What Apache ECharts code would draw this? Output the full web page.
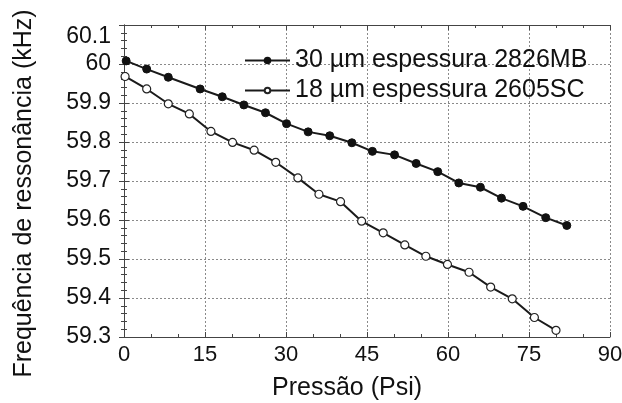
<!DOCTYPE html>
<html>
<head>
<meta charset="utf-8">
<script src="https://cdn.jsdelivr.net/npm/echarts@6/dist/echarts.min.js"></script>
<style>
html,body{margin:0;padding:0;background:#fff;}
#chart{width:622px;height:403px;}
</style>
</head>
<body>
<div id="chart"></div>
<script>
// Data
const seriesNames = ['30 µm espessura 2826MB', '18 µm espessura 2605SC'];
const pressure30 = [0.4, 4.2, 8.2, 14.1, 18.2, 22.2, 26.2, 30.1, 34.1, 38.1, 42.2, 46.0, 50.1, 54.1, 58.1, 62.0, 66.0, 69.9, 73.9, 78.1, 82.0];
const freq30 =     [60.008, 59.987, 59.966, 59.936, 59.916, 59.895, 59.875, 59.847, 59.826, 59.816, 59.798, 59.776, 59.767, 59.745, 59.724, 59.695, 59.684, 59.656, 59.635, 59.606, 59.586];
const pressure18 = [0.2, 4.2, 8.2, 12.1, 16.1, 20.1, 24.1, 28.1, 32.2, 36.1, 40.1, 44.0, 48.0, 52.0, 55.9, 59.9, 63.9, 67.9, 71.9, 76.0, 80.0];
const freq18 =     [59.968, 59.936, 59.898, 59.872, 59.827, 59.799, 59.779, 59.748, 59.708, 59.666, 59.647, 59.597, 59.567, 59.536, 59.507, 59.486, 59.466, 59.428, 59.398, 59.350, 59.317];
const xTicks = [0, 15, 30, 45, 60, 75, 90];
const yTicks = [59.3, 59.4, 59.5, 59.6, 59.7, 59.8, 59.9, 60.0, 60.1];
const xTitle = 'Pressão (Psi)';
const yTitle = 'Frequência de ressonância (kHz)';

const FONT = '"Liberation Sans", Arial, sans-serif';
const frameColor = '#444';
const gridLine = { show: true, lineStyle: { color: '#8a8a8a', type: [2, 2], width: 1 } };

function pairs(xs, ys) { return xs.map((x, i) => [x, ys[i]]); }

const xBase = {
  type: 'value', min: xTicks[0], max: xTicks[xTicks.length - 1], interval: xTicks[1] - xTicks[0],
  axisLine: { show: true, lineStyle: { color: frameColor, width: 1 } },
  axisTick: { show: true, inside: true, length: 5, lineStyle: { color: frameColor } },
  minorTick: { show: true, splitNumber: 3, length: 3, lineStyle: { color: frameColor } },
};
const yBase = {
  type: 'value', min: yTicks[0], max: yTicks[yTicks.length - 1], interval: 0.1,
  axisLine: { show: true, lineStyle: { color: frameColor, width: 1 } },
  axisTick: { show: true, inside: true, length: 5, lineStyle: { color: frameColor } },
  minorTick: { show: true, splitNumber: 5, length: 3, lineStyle: { color: frameColor } },
};

const chart = echarts.init(document.getElementById('chart'), null, { renderer: 'canvas' });
chart.setOption({
  animation: false,
  backgroundColor: '#fff',
  textStyle: { fontFamily: FONT },
  grid: { left: 124, right: 12, top: 25, bottom: 66, containLabel: false, outerBoundsMode: 'none' },
  legend: {
    orient: 'vertical', left: 239, top: 43, itemGap: 5,
    itemWidth: 45, itemHeight: 7,
    textStyle: { fontFamily: FONT, fontSize: 25, color: '#111', lineHeight: 24 },
    data: seriesNames
  },
  xAxis: [
    Object.assign({}, xBase, {
      position: 'bottom',
      splitLine: gridLine,
      axisLabel: { fontFamily: FONT, fontSize: 22, color: '#111', margin: 7 },
      name: xTitle, nameLocation: 'middle', nameGap: 39,
      nameTextStyle: { fontFamily: FONT, fontSize: 25, color: '#111', padding: [0, 40, 0, 0] }
    }),
    Object.assign({}, xBase, {
      position: 'top', splitLine: { show: false }, axisLabel: { show: false }
    })
  ],
  yAxis: [
    Object.assign({}, yBase, {
      position: 'left',
      splitLine: gridLine,
      axisLabel: {
        fontFamily: FONT, fontSize: 23, color: '#111', margin: 13,
        formatter: v => (Math.round(v * 10) / 10).toString(),
        verticalAlignMaxLabel: 'top'
      },
      name: yTitle, nameLocation: 'middle', nameGap: 87, nameRotate: 90,
      nameTextStyle: { fontFamily: FONT, fontSize: 25, color: '#111', padding: [0, 25, 0, 0] }
    }),
    Object.assign({}, yBase, {
      position: 'right', splitLine: { show: false }, axisLabel: { show: false }
    })
  ],
  series: [
    {
      name: seriesNames[0], type: 'line', data: pairs(pressure30, freq30),
      symbol: 'circle', symbolSize: 8,
      lineStyle: { color: '#1a1a1a', width: 2 },
      itemStyle: { color: '#111', borderColor: '#111', borderWidth: 1 }
    },
    {
      name: seriesNames[1], type: 'line', data: pairs(pressure18, freq18),
      symbol: 'circle', symbolSize: 8,
      lineStyle: { color: '#1a1a1a', width: 2 },
      itemStyle: { color: '#fff', borderColor: '#222', borderWidth: 1.2 }
    }
  ]
});
</script>
</body>
</html>
